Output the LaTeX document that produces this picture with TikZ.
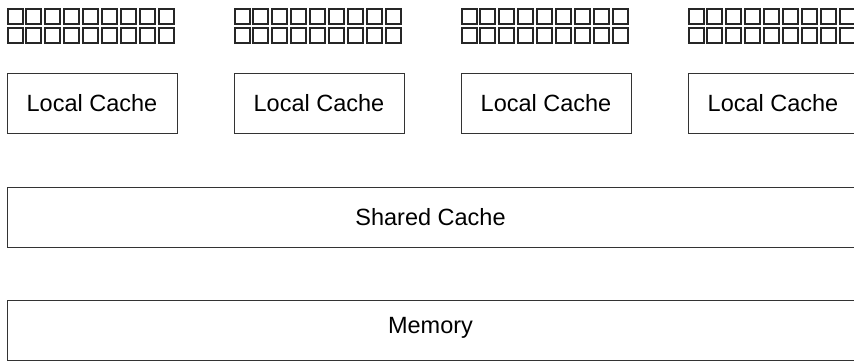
\documentclass[tikz,border=0pt]{standalone}
\usepackage{fontspec}
\setmainfont{Liberation Sans}
\begin{document}
\begin{tikzpicture}[x=1pt,y=-1pt,
  cell/.style={draw=black!85, line width=2pt, minimum size=15pt, inner sep=0pt, anchor=center},
  cachebox/.style={draw=black!80, line width=0.9pt, inner sep=0pt, font=\fontsize{23.5}{26}\selectfont},
  cachetext/.style={inner sep=0pt, font=\fontsize{23.5}{26}\selectfont},
]
\useasboundingbox (0,0) rectangle (854,360);
\clip (0,0) rectangle (854,360);
\foreach \g in {0,1,2,3}{
  \foreach \c in {0,...,8}{
    \node[cell] (s\g-\c-a) at ({15+227*\g+18.9*\c},16.5) {};
    \node[cell] (s\g-\c-b) at ({15+227*\g+18.9*\c},35.5) {};
  }
  \node[cachebox, minimum width=170pt, minimum height=60pt] (lc\g) at ({92+227*\g},103) {Local Cache};
}
\node[cachebox, minimum width=900pt, minimum height=60pt, anchor=west] (sc) at (7,217) {};
\node[cachetext] (sct) at (430.5,217) {Shared Cache};
\node[cachebox, minimum width=900pt, minimum height=60pt, anchor=west] (mem) at (7,330) {};
\node[cachetext] (memt) at (430.5,328) {Memory};
\end{tikzpicture}
\end{document}
